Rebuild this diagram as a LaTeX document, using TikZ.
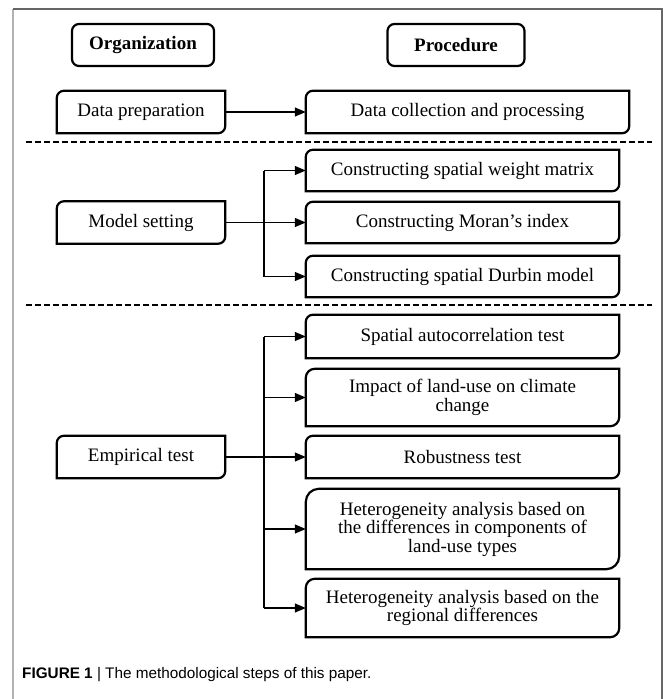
\documentclass[tikz,border=0pt]{standalone}
\usepackage{fontspec}
\setmainfont{Liberation Serif}
\setsansfont{Liberation Sans}
\usetikzlibrary{arrows.meta}

% frame with two rounded corners (top left, bottom right)
\newcommand{\diagframe}[2]{%
  \draw[line width=2.2pt] (#1.south west) -- ([yshift=-#2]#1.north west)
    arc[start angle=180,end angle=90,radius=#2] -- (#1.north east)
    -- ([yshift=#2]#1.south east) arc[start angle=0,end angle=-90,radius=#2] -- cycle;}

\begin{document}
\begin{tikzpicture}[x=1pt,y=-1pt,
    txt/.style={font=\fontsize{19}{18.5}\selectfont,align=center,inner sep=0pt},
    head/.style={txt,font=\fontsize{19}{18.5}\selectfont\bfseries,draw,line width=2.2pt,rounded corners=7pt,minimum height=42pt},
    orgbox/.style={txt,minimum width=168pt,minimum height=42pt},
    procbox/.style={txt,minimum width=313pt},
    stream/.style={-{Triangle[length=11pt,width=9pt]},line width=1.3pt},
    sep/.style={line width=2pt,dash pattern=on 6pt off 3pt}]
    \useasboundingbox (0,0) rectangle (663,699);

    % page frame
    \draw[black!30,line width=2pt] (13,699) -- (13,9);
    \draw[black!60,line width=2pt] (13,9) -- (662,9) -- (662,699);

    % headings
    \node[head,minimum width=142pt] (organization) at (143,45) {Organization};
    \node[head,minimum width=137pt] (procedure) at (456,45) {Procedure};

    % data preparation
    \node[orgbox] (dataprep) at (141,112) {Data preparation};
    \node[procbox,minimum width=323pt,minimum height=42pt] (datacoll) at (467.5,112) {Data collection and processing};
    \diagframe{dataprep}{7pt}
    \diagframe{datacoll}{7pt}
    \draw[stream] (dataprep) -- (datacoll);

    \draw[sep] (26,142) -- (652,142);

    % model setting
    \node[orgbox] (modelset) at (141,222.5) {Model setting};
    \node[procbox,minimum height=41pt] (weight) at (462.5,170.5) {Constructing spatial weight matrix};
    \node[procbox,minimum height=41pt] (moran) at (462.5,222.5) {Constructing Moran’s index};
    \node[procbox,minimum height=41pt] (durbin) at (462.5,276.5) {Constructing spatial Durbin model};
    \foreach \n in {modelset,weight,moran,durbin} {\diagframe{\n}{7pt}}
    \coordinate (modelfork) at (264,222.5);
    \draw[line width=1.3pt] (modelfork |- weight.west) -- (modelfork |- durbin.west);
    \draw[stream] (modelset) -- (moran);
    \draw[stream] (modelfork |- weight.west) -- (weight);
    \draw[stream] (modelfork |- durbin.west) -- (durbin);

    \draw[sep] (26,305) -- (652,305);

    % empirical test
    \node[orgbox] (empirical) at (141,457) {Empirical test};
    \node[procbox,minimum height=43pt] (autocorr) at (462.5,336.5) {Spatial autocorrelation test};
    \node[procbox,minimum height=57pt] (impact) at (462.5,397.5) {Impact of land-use on climate\\change};
    \node[procbox,minimum height=42pt] (robust) at (462.5,457) {Robustness test};
    \node[procbox,minimum height=80pt] (hetland) at (462.5,529) {Heterogeneity analysis based on\\the differences in components of\\land-use types};
    \node[procbox,minimum height=58pt] (hetregion) at (462.5,608) {Heterogeneity analysis based on the\\regional differences};
    \diagframe{empirical}{7pt}
    \diagframe{autocorr}{7pt}
    \diagframe{impact}{9pt}
    \diagframe{robust}{7pt}
    \diagframe{hetland}{13pt}
    \diagframe{hetregion}{9pt}
    \coordinate (empfork) at (264,457);
    \draw[line width=1.3pt] (empfork |- autocorr.west) -- (empfork |- hetregion.west);
    \draw[stream] (empirical) -- (robust);
    \foreach \n in {autocorr,impact,hetland,hetregion}
      \draw[stream] (empfork |- \n.west) -- (\n);

    % caption
    \node[anchor=base west,inner sep=0pt,font=\sffamily\fontsize{15.3}{15.3}\selectfont] (caption) at (22,678)
      {\textbf{FIGURE 1} | The methodological steps of this paper.};
\end{tikzpicture}
\end{document}
